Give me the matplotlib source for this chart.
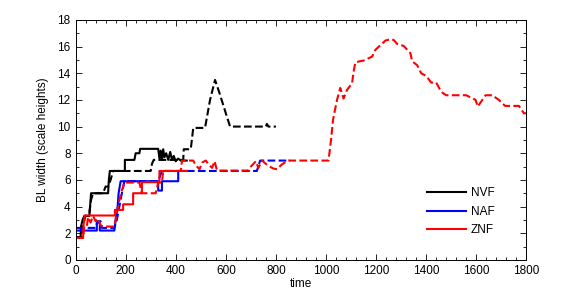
import matplotlib
matplotlib.use('Agg')
import matplotlib.pyplot as plt
from matplotlib.lines import Line2D
from matplotlib.ticker import MultipleLocator

plt.rcParams['font.family'] = ['Liberation Sans', 'DejaVu Sans']

# NVF
nvf_solid_t = [0, 0, 20, 22, 28, 35, 55, 58, 62, 130, 133, 137, 197, 197, 235, 240, 255, 258,
               330, 335, 340, 345, 350, 355, 362, 370, 378, 385, 392, 400, 410, 420, 444]
nvf_solid_y = [0, 1.7, 1.7, 2.5, 3.0, 3.3, 3.3, 4.0, 5.0, 5.0, 6.0, 6.67, 6.67, 7.5, 7.5, 8.0, 8.0, 8.33,
               8.33, 7.6, 8.2, 7.5, 8.3, 7.7, 8.0, 7.5, 8.1, 7.5, 7.8, 7.4, 7.6, 7.45, 7.45]
nvf_dash_t = [0, 0, 25, 30, 40, 55, 62, 70, 110, 120, 130, 140, 150, 300, 305, 312, 430, 432,
              460, 470, 517, 537, 557, 575, 600, 617, 760, 764, 770, 800]
nvf_dash_y = [0, 1.7, 1.7, 2.6, 3.3, 3.5, 4.5, 5.0, 5.0, 5.5, 5.5, 6.0, 6.67, 6.67, 7.2, 7.5, 7.5, 8.3,
              8.3, 9.9, 9.9, 12.0, 13.5, 12.5, 11.0, 10.0, 10.0, 10.2, 10.0, 10.0]

# NAF
naf_solid_t = [0, 0, 85, 85, 97, 97, 155, 160, 168, 172, 180, 330, 330, 345, 345, 410, 410, 445]
naf_solid_y = [0, 2.2, 2.2, 2.8, 2.8, 2.2, 2.2, 3.0, 4.0, 5.0, 5.9, 5.9, 5.2, 5.2, 5.9, 5.9, 6.67, 6.67]
naf_dash_t = [0, 0, 80, 88, 100, 105, 155, 165, 175, 185, 195, 330, 345, 724, 737, 857]
naf_dash_y = [0, 2.4, 2.4, 2.9, 2.9, 2.4, 2.4, 3.0, 4.0, 5.0, 5.9, 5.9, 6.67, 6.67, 7.45, 7.45]

# ZNF
znf_solid_t = [0, 0, 30, 32, 37, 157, 157, 190, 190, 230, 230, 265, 265, 335, 335, 445]
znf_solid_y = [0, 1.65, 1.65, 2.6, 3.33, 3.33, 3.75, 3.75, 4.17, 4.17, 5.0, 5.0, 5.83, 5.83, 6.67, 6.67]
znf_dash_t = [0, 0, 30, 35, 45, 50, 60, 70, 80, 90, 100, 110, 155, 165, 175, 185, 195, 255, 265,
              320, 330, 345, 350, 420, 425, 470, 480, 495, 505, 520, 530, 545, 555, 565, 690,
              700, 710, 720, 730, 745, 760, 775, 790, 805, 820, 835, 850, 1010, 1020, 1028,
              1033, 1044, 1057, 1070, 1084, 1104, 1110, 1117, 1135, 1150, 1184, 1197, 1217,
              1237, 1257, 1270, 1284, 1310, 1337, 1344, 1364, 1380, 1400, 1420, 1440, 1460,
              1480, 1560, 1597, 1606, 1624, 1637, 1664, 1690, 1715, 1770, 1790, 1800]
znf_dash_y = [0, 1.65, 1.65, 2.5, 2.5, 3.2, 2.8, 3.3, 2.9, 3.1, 2.6, 2.5, 2.5, 3.5, 4.5, 5.2, 5.8, 5.8, 5.0,
              5.0, 5.8, 5.8, 6.67, 6.67, 7.45, 7.45, 7.1, 6.8, 7.3, 7.45, 7.2, 6.9, 7.4, 6.7, 6.7,
              7.0, 7.2, 7.4, 6.9, 7.45, 7.2, 7.0, 6.85, 6.8, 7.1, 7.3, 7.45, 7.45, 9.0, 10.5,
              11.0, 12.0, 12.9, 12.1, 12.75, 13.25, 14.1, 14.8, 14.9, 14.95, 15.25, 15.75, 16.1,
              16.45, 16.55, 16.5, 16.2, 16.05, 15.5, 14.9, 14.6, 14.0, 13.8, 13.3, 13.3, 12.6,
              12.35, 12.35, 12.0, 11.5, 12.0, 12.35, 12.35, 12.0, 11.55, 11.55, 11.0, 11.0]

names = ['NVF', 'NAF', 'ZNF']
colors = ['black', 'blue', 'red']

fig = plt.figure(figsize=(5.81, 2.93), dpi=100)
ax = fig.add_axes([0.13, 0.113, 0.776, 0.819])

lw = 1.5
ax.plot(nvf_solid_t, nvf_solid_y, color='black', lw=lw)
ax.plot(nvf_dash_t, nvf_dash_y, color='black', lw=lw, ls='--')
ax.plot(naf_solid_t, naf_solid_y, color='blue', lw=lw)
ax.plot(naf_dash_t, naf_dash_y, color='blue', lw=lw, ls='--')
ax.plot(znf_solid_t, znf_solid_y, color='red', lw=lw)
ax.plot(znf_dash_t, znf_dash_y, color='red', lw=lw, ls='--')

ax.set_xlim(0, 1800)
ax.set_ylim(0, 18)
ax.xaxis.set_major_locator(MultipleLocator(200))
ax.xaxis.set_minor_locator(MultipleLocator(40))
ax.yaxis.set_major_locator(MultipleLocator(2))
ax.yaxis.set_minor_locator(MultipleLocator(1))
ax.tick_params(which='both', direction='in', top=True, right=True, labelsize=8.5, width=0.6)
ax.tick_params(which='major', length=4)
ax.tick_params(which='minor', length=2)
for s in ax.spines.values():
    s.set_linewidth(0.7)

ax.set_xlabel('time', fontsize=8.5, labelpad=1)
ax.set_ylabel('BL width (scale heights)', fontsize=8.5, labelpad=6)

handles = [Line2D([], [], color=c, lw=lw) for c in colors]
ax.legend(handles, names, loc='center', bbox_to_anchor=(0.855, 0.2), frameon=False,
          fontsize=8.5, handlelength=3.3, handletextpad=0.4, labelspacing=0.55)

fig.savefig('out.png', dpi=100)
